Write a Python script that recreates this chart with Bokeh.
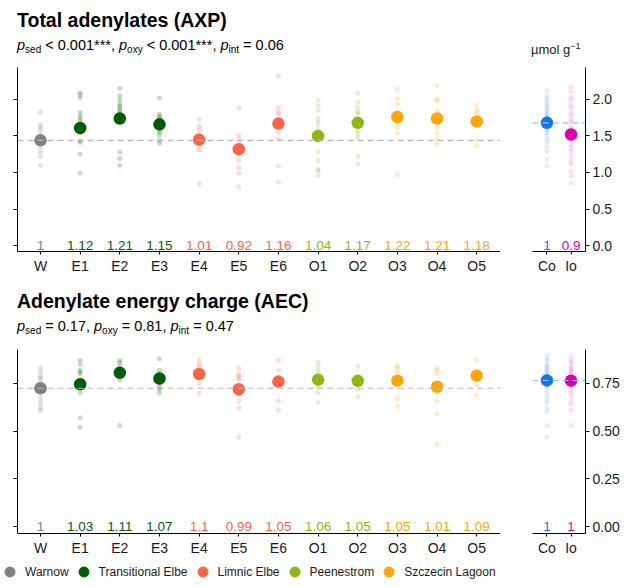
from bokeh.plotting import figure
from bokeh.models import (Range1d, FixedTicker, PrintfTickFormatter, Div, Span,
                          Legend, LegendItem)
from bokeh.layouts import column, row
from bokeh.embed import file_html
from bokeh.resources import INLINE
from bokeh.core.properties import value

FONT = "Liberation Sans"

# ---------------- data ----------------
sites = ["W", "E1", "E2", "E3", "E4", "E5", "E6", "O1", "O2", "O3", "O4", "O5"]
site_groups = ["Warnow", "Transitional Elbe", "Transitional Elbe", "Transitional Elbe",
               "Limnic Elbe", "Limnic Elbe", "Limnic Elbe", "Peenestrom", "Peenestrom",
               "Szczecin Lagoon", "Szczecin Lagoon", "Szczecin Lagoon"]
groups = ["Warnow", "Transitional Elbe", "Limnic Elbe", "Peenestrom", "Szczecin Lagoon"]
group_colors = ["#808080", "#005C00", "#FF6347", "#8DB814", "#FFA500"]
ctrl_sites = ["Co", "Io"]
ctrl_colors = ["#1474E8", "#DD00AE"]

# Total adenylates (AXP), umol g-1
axp_means = [1.44, 1.61, 1.74, 1.66, 1.45, 1.32, 1.67, 1.50, 1.68, 1.76, 1.74, 1.70]
axp_ratios = ["1", "1.12", "1.21", "1.15", "1.01", "0.92", "1.16", "1.04", "1.17", "1.22", "1.21", "1.18"]
axp_points = [
    [1.82, 1.65, 1.62, 1.58, 1.52, 1.47, 1.40, 1.35, 1.28, 1.22, 1.10],
    [2.09, 2.06, 2.02, 1.82, 1.78, 1.74, 1.71, 1.64, 1.55, 1.43, 1.41, 1.25, 0.99],
    [2.15, 2.05, 2.00, 1.94, 1.91, 1.88, 1.85, 1.82, 1.79, 1.28, 1.19, 1.10],
    [2.02, 1.80, 1.77, 1.75, 1.72, 1.68, 1.62, 1.58, 1.55, 1.51, 1.44, 1.40],
    [1.73, 1.63, 1.59, 1.53, 1.48, 1.40, 1.36, 1.31, 0.85],
    [1.89, 1.51, 1.46, 1.40, 1.35, 1.17, 1.07, 0.99, 0.80],
    [2.32, 1.89, 1.83, 1.80, 1.72, 1.55, 1.46, 1.09, 0.87],
    [1.99, 1.92, 1.85, 1.74, 1.69, 1.64, 1.58, 1.28, 1.16, 1.04, 1.02, 0.96],
    [2.09, 1.96, 1.89, 1.83, 1.80, 1.64, 1.58, 1.53, 1.48, 1.22, 1.12],
    [2.14, 2.01, 1.93, 1.82, 1.67, 1.61, 1.54, 0.97],
    [2.19, 2.00, 1.99, 1.84, 1.71, 1.62, 1.54, 1.46, 1.39],
    [1.92, 1.85, 1.81, 1.74, 1.44, 1.36],
]
axp_ctrl_means = [1.68, 1.52]
axp_ctrl_ratios = ["1", "0.9"]
axp_ctrl_points = [
    [2.12, 2.05, 2.01, 1.98, 1.93, 1.91, 1.87, 1.85, 1.81, 1.79, 1.76, 1.74, 1.71,
     1.69, 1.66, 1.64, 1.60, 1.58, 1.54, 1.51, 1.46, 1.42, 1.35, 1.29, 1.18, 1.09],
    [2.17, 2.11, 2.03, 1.99, 1.92, 1.88, 1.81, 1.78, 1.72, 1.69, 1.63, 1.60, 1.55,
     1.52, 1.47, 1.44, 1.38, 1.33, 1.29, 1.22, 1.16, 1.11, 1.01, 0.95, 0.86],
]

# Adenylate energy charge (AEC)
aec_means = [0.725, 0.746, 0.806, 0.776, 0.800, 0.720, 0.760, 0.770, 0.764, 0.765, 0.733, 0.791]
aec_ratios = ["1", "1.03", "1.11", "1.07", "1.1", "0.99", "1.05", "1.06", "1.05", "1.05", "1.01", "1.09"]
aec_points = [
    [0.83, 0.81, 0.79, 0.78, 0.77, 0.75, 0.68, 0.66, 0.64, 0.62, 0.61],
    [0.87, 0.85, 0.82, 0.81, 0.80, 0.77, 0.75, 0.70, 0.57, 0.52],
    [0.87, 0.86, 0.84, 0.82, 0.77, 0.53],
    [0.88, 0.82, 0.80, 0.78, 0.75, 0.73, 0.72, 0.70],
    [0.87, 0.85, 0.84, 0.81, 0.75, 0.70],
    [0.83, 0.80, 0.79, 0.78, 0.77, 0.66, 0.62, 0.47],
    [0.87, 0.82, 0.66, 0.61],
    [0.86, 0.84, 0.82, 0.80, 0.79, 0.75, 0.73, 0.70, 0.65],
    [0.84, 0.78, 0.72, 0.68],
    [0.84, 0.83, 0.81, 0.67, 0.63],
    [0.83, 0.82, 0.80, 0.66, 0.59, 0.43],
    [0.87, 0.81, 0.74, 0.69],
]
aec_ctrl_means = [0.766, 0.765]
aec_ctrl_ratios = ["1", "1"]
aec_ctrl_points = [
    [0.90, 0.88, 0.87, 0.85, 0.84, 0.83, 0.82, 0.81, 0.80, 0.79, 0.78, 0.77, 0.76,
     0.75, 0.74, 0.73, 0.71, 0.69, 0.67, 0.65, 0.62, 0.60, 0.53, 0.47],
    [0.89, 0.87, 0.86, 0.84, 0.83, 0.82, 0.81, 0.80, 0.79, 0.78, 0.77, 0.76, 0.75,
     0.74, 0.72, 0.70, 0.68, 0.66, 0.64, 0.61, 0.53],
]

axp_ticks = [0.0, 0.5, 1.0, 1.5, 2.0]
aec_ticks = [0.0, 0.25, 0.5, 0.75]

# ---------------- styling helpers ----------------
FRAME_H = 184
MAIN_W = 483
SIDE_W = 53
BORDER_B = 24
LEFT = 17
TXT = "#1A1A1A"


def style_axis(ax, size="14px"):
    ax.axis_line_color = "black"
    ax.axis_line_width = 1
    ax.major_tick_line_color = "black"
    ax.major_tick_out = 4
    ax.major_tick_in = 0
    ax.minor_tick_line_color = None
    ax.major_label_text_font = FONT
    ax.major_label_text_font_size = size
    ax.major_label_text_color = TXT
    ax.major_label_standoff = 3


def build_panel(means, ratios, points, cmeans, cratios, cpoints, yr, ticks, fmt):
    site_cols = [group_colors[groups.index(g)] for g in site_groups]
    xs = list(range(1, len(sites) + 1))

    pm = figure(frame_width=MAIN_W, frame_height=FRAME_H, output_backend="svg",
                toolbar_location=None, x_range=Range1d(0.42, len(sites) + 0.6),
                y_range=Range1d(*yr), min_border_left=LEFT, min_border_right=0,
                min_border_top=0, min_border_bottom=BORDER_B, outline_line_color=None,
                background_fill_color="white", border_fill_color="white", margin=0)
    pm.grid.visible = False
    for ax in pm.xaxis:
        style_axis(ax)
        ax.ticker = FixedTicker(ticks=xs)
        ax.major_label_overrides = {i: s for i, s in zip(xs, sites)}
        ax.major_tick_out = 3
    for ax in pm.yaxis:
        style_axis(ax)
        ax.ticker = FixedTicker(ticks=ticks)
        ax.major_label_text_font_size = "1px"
        ax.major_label_text_color = None
        ax.major_label_standoff = 0

    pm.add_layout(Span(location=means[0], dimension="width", line_color="#B8B8B8",
                       line_dash="6 4", line_width=1.1))

    px, py, pc = [], [], []
    for x, pts, c in zip(xs, points, site_cols):
        for v in pts:
            px.append(x)
            py.append(v)
            pc.append(c)
    pm.scatter(px, py, size=5, color=pc, alpha=0.22, line_color=None)
    pm.scatter(xs, means, size=12.5, color=site_cols, line_color=None)
    pm.text(xs, [0] * len(xs), text=ratios, text_color=site_cols, text_align="center",
            text_baseline="middle", text_font=value(FONT), text_font_size="13.5px")

    cx = list(range(1, len(ctrl_sites) + 1))
    ps = figure(frame_width=SIDE_W, frame_height=FRAME_H, output_backend="svg",
                toolbar_location=None, x_range=Range1d(0.4, len(ctrl_sites) + 0.6),
                y_range=Range1d(*yr), y_axis_location="right", min_border_left=32,
                min_border_right=0, min_border_top=0, min_border_bottom=BORDER_B,
                outline_line_color=None, background_fill_color="white",
                border_fill_color="white", margin=0)
    ps.grid.visible = False
    for ax in ps.xaxis:
        style_axis(ax)
        ax.ticker = FixedTicker(ticks=cx)
        ax.major_label_overrides = {i: s for i, s in zip(cx, ctrl_sites)}
        ax.major_tick_out = 3
    for ax in ps.yaxis:
        style_axis(ax)
        ax.ticker = FixedTicker(ticks=ticks)
        ax.formatter = PrintfTickFormatter(format=fmt)

    ps.add_layout(Span(location=cmeans[0], dimension="width", line_color="#8EC3F5",
                       line_dash="6 4", line_width=1.1))
    qx, qy, qc = [], [], []
    for x, pts, c in zip(cx, cpoints, ctrl_colors):
        for v in pts:
            qx.append(x)
            qy.append(v)
            qc.append(c)
    ps.scatter(qx, qy, size=5, color=qc, alpha=0.12, line_color=None)
    ps.scatter(cx, cmeans, size=12.5, color=ctrl_colors, line_color=None)
    ps.text(cx, [0] * len(cx), text=cratios, text_color=ctrl_colors, text_align="center",
            text_baseline="middle", text_font=value(FONT), text_font_size="13.5px")
    return row(pm, ps, spacing=0)


def sub(t):
    return ('<span style="font-size:10px;position:relative;top:3px">%s</span>' % t)


def header(title, subtitle_html, height, title_top, sub_top, unit=None):
    unit_html = ""
    if unit:
        unit_html = ('<div style="position:absolute;left:531px;top:42px;font-size:13px;'
                     'line-height:16px;white-space:nowrap;color:%s">%s</div>' % (TXT, unit))
    html = ('<div style="position:relative;width:625px;height:%dpx;font-family:\'%s\',Arial,sans-serif;color:black">'
            '<div style="position:absolute;left:17px;top:%dpx;font-size:19.5px;font-weight:bold;line-height:24px;white-space:nowrap">%s</div>'
            '<div style="position:absolute;left:17px;top:%dpx;font-size:14.5px;line-height:18px;white-space:nowrap">%s</div>'
            '%s</div>') % (height, FONT, title_top, title, sub_top, subtitle_html, unit_html)
    return Div(text=html, width=625, height=height, margin=0)


axp_sub = ("<i>p</i>" + sub("sed") + " &lt; 0.001***, <i>p</i>" + sub("oxy") +
           " &lt; 0.001***, <i>p</i>" + sub("int") + " = 0.06")
aec_sub = ("<i>p</i>" + sub("sed") + " = 0.17, <i>p</i>" + sub("oxy") +
           " = 0.81, <i>p</i>" + sub("int") + " = 0.47")
unit = 'µmol g<span style="font-size:9px;position:relative;top:-5px">−1</span>'

head1 = header("Total adenylates (AXP)", axp_sub, 67, 8, 36, unit)
panel1 = build_panel(axp_means, axp_ratios, axp_points, axp_ctrl_means, axp_ctrl_ratios,
                     axp_ctrl_points, (-0.082, 2.438), axp_ticks, "%.1f")
head2 = header("Adenylate energy charge (AEC)", aec_sub, 73, 13, 41)
panel2 = build_panel(aec_means, aec_ratios, aec_points, aec_ctrl_means, aec_ctrl_ratios,
                     aec_ctrl_points, (-0.0367, 0.9283), aec_ticks, "%.2f")

# legend
leg = figure(width=625, height=31, output_backend="svg", toolbar_location=None,
             x_range=Range1d(0, 1), y_range=Range1d(0, 1), x_axis_location=None,
             y_axis_location=None, min_border=0, outline_line_color=None, margin=0)
leg.grid.visible = False
items = []
for g, c in zip(groups, group_colors):
    r = leg.scatter([-5], [-5], color=c, size=10)
    items.append(LegendItem(label=g, renderers=[r]))
legend = Legend(items=items, orientation="horizontal", location=(-3, 5),
                glyph_width=25, glyph_height=25, label_standoff=3, spacing=2,
                padding=0, margin=0, border_line_color=None, background_fill_alpha=0,
                label_text_font=FONT, label_text_font_size="12px", label_text_color=TXT)
leg.add_layout(legend, "center")

layout = column(head1, panel1, head2, panel2, leg, spacing=0)
open("out.html", "w").write(file_html(layout, INLINE))
